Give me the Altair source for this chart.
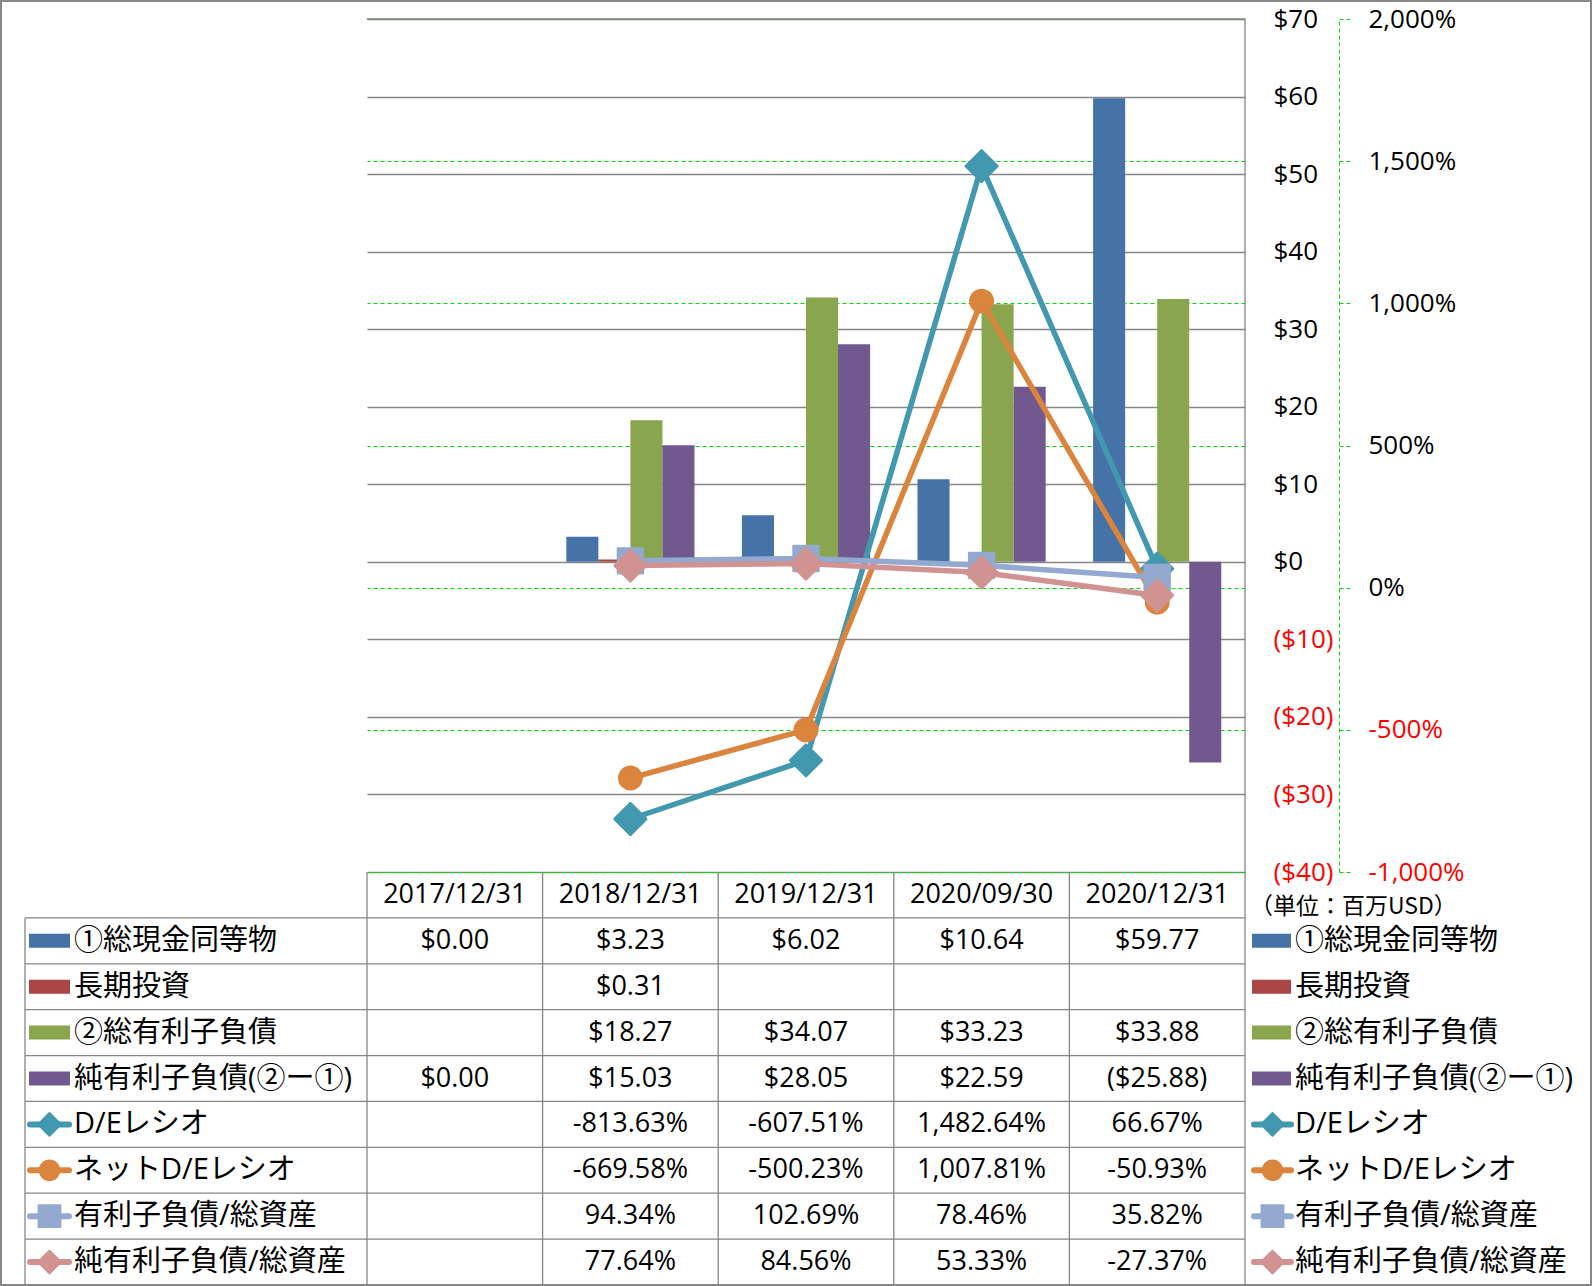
import altair as alt
import pandas as pd

# ---------------- data ----------------
dates = ["2017/12/31", "2018/12/31", "2019/12/31", "2020/09/30", "2020/12/31"]

bar_series = ["①総現金同等物", "長期投資", "②総有利子負債", "純有利子負債(②ー①)"]
line_series = ["D/Eレシオ", "ネットD/Eレシオ", "有利子負債/総資産", "純有利子負債/総資産"]

cash = [0.00, 3.23, 6.02, 10.64, 59.77]
lt_invest = [None, 0.31, None, None, None]
debt = [None, 18.27, 34.07, 33.23, 33.88]
net_debt = [0.00, 15.03, 28.05, 22.59, -25.88]

de_ratio = [None, -813.63, -607.51, 1482.64, 66.67]
net_de_ratio = [None, -669.58, -500.23, 1007.81, -50.93]
debt_to_assets = [None, 94.34, 102.69, 78.46, 35.82]
net_debt_to_assets = [None, 77.64, 84.56, 53.33, -27.37]

money_ticks = [-40, -30, -20, -10, 0, 10, 20, 30, 40, 50, 60, 70]
pct_ticks = [-1000, -500, 0, 500, 1000, 1500, 2000]
unit_label = "（単位：百万USD）"

# ---------------- styles ----------------
bar_colors = ["#4572A7", "#AA4643", "#89A54E", "#71588F"]
line_colors = ["#4198AF", "#DB843D", "#93A9CF", "#D19392"]
line_shapes = ["diamond", "circle", "square", "diamond"]
plot_marker_size = [1000, 500, 620, 1000]
legend_marker_size = [520, 380, 480, 520]

FONT = "Open Sans, Noto Sans CJK JP"
GRID_GRAY = "#868686"
GREEN = "#00DD00"
W, H = 878, 853
ROW_TOP, ROW_BOT = 853, 1266

bar_vals = [cash, lt_invest, debt, net_debt]
line_vals = [de_ratio, net_de_ratio, debt_to_assets, net_debt_to_assets]


def fmt_money(v):
    return f"${v:,.2f}" if v >= 0 else f"(${-v:,.2f})"


def fmt_pct(v):
    return f"{v:,.2f}%"


bar_df = pd.DataFrame(
    [(d, s, v) for s, vals in zip(bar_series, bar_vals) for d, v in zip(dates, vals) if v is not None],
    columns=["date", "series", "value"],
)
line_df = pd.DataFrame(
    [(d, s, v) for s, vals in zip(line_series, line_vals) for d, v in zip(dates, vals) if v is not None],
    columns=["date", "series", "value"],
)

rows_domain = ["hdr"] + bar_series + line_series
table_records = [(d, "hdr", d) for d in dates]
for s, vals in zip(bar_series, bar_vals):
    table_records += [(d, s, fmt_money(v)) for d, v in zip(dates, vals) if v is not None]
for s, vals in zip(line_series, line_vals):
    table_records += [(d, s, fmt_pct(v)) for d, v in zip(dates, vals) if v is not None]
table_df = pd.DataFrame(table_records, columns=["date", "row", "text"])

# ---------------- scales ----------------
x_scale = alt.Scale(domain=dates, paddingInner=0, paddingOuter=0)
xo_scale = alt.Scale(domain=bar_series, paddingInner=0, paddingOuter=0.74)
money_scale = alt.Scale(domain=[-40, 70], nice=False, zero=False)
pct_scale = alt.Scale(domain=[-1000, 2000], nice=False, zero=False)
row_scale = alt.Scale(domain=rows_domain, range=[ROW_TOP, ROW_BOT], paddingInner=0, paddingOuter=0)
color_scale = alt.Scale(domain=bar_series, range=bar_colors)

X = alt.X("date:N", scale=x_scale, axis=None)

money_axis = alt.Axis(
    orient="right", values=money_ticks, title=None,
    labelExpr="datum.value < 0 ? '($' + abs(datum.value) + ')' : '$' + datum.value",
    labelColor={"condition": {"test": "datum.value < 0", "value": "#FF0000"}, "value": "#000000"},
    ticks=False, tickSize=0, domain=False,
    grid=True, gridColor=GRID_GRAY, gridWidth=1.3,
    labelPadding=28, labelFont=FONT, labelFontSize=26, labelAlign="left", labelBaseline="middle",
    labelOverlap=False,
)

pct_axis = alt.Axis(
    orient="right", offset=94, values=pct_ticks, title=None,
    labelExpr="(datum.value < 0 ? '-' : '') + format(abs(datum.value), ',') + '%'",
    labelColor={"condition": {"test": "datum.value < 0", "value": "#FF0000"}, "value": "#000000"},
    domain=True, domainColor=GREEN, domainDash=[4, 3], domainWidth=1,
    ticks=True, tickSize=11, tickColor=GREEN, tickDash=[4, 3], tickWidth=1,
    grid=True, gridColor=GREEN, gridDash=[4, 3], gridWidth=1,
    labelPadding=18, labelFont=FONT, labelFontSize=26, labelAlign="left", labelBaseline="middle",
    labelOverlap=False,
)

# ---------------- bars ----------------
bars = alt.Chart(bar_df).mark_bar().encode(
    x=X,
    xOffset=alt.XOffset("series:N", scale=xo_scale),
    y=alt.Y("value:Q", scale=money_scale, axis=money_axis),
    color=alt.Color("series:N", scale=color_scale, legend=None),
)

# ---------------- lines ----------------
line_layers = []
for i, s in enumerate(line_series):
    base = alt.Chart(line_df).transform_filter(alt.datum.series == s)
    yenc = alt.Y("value:Q", scale=pct_scale, axis=pct_axis)
    line_layers.append(
        base.mark_line(color=line_colors[i], strokeWidth=5.5, strokeCap="round", strokeJoin="round")
        .encode(x=X, y=yenc)
    )
    line_layers.append(
        base.mark_point(
            shape=line_shapes[i], size=plot_marker_size[i], filled=True, opacity=1,
            color=line_colors[i], stroke=line_colors[i], strokeWidth=2.5, strokeJoin="round",
        ).encode(x=X, y=yenc)
    )
lines = alt.layer(*line_layers)

# ---------------- table ----------------
RY = alt.Y("row:N", scale=row_scale, axis=None)
one = pd.DataFrame({"k": [0]})

cells = alt.Chart(table_df).mark_text(font=FONT, fontSize=27, baseline="middle", align="center", color="black").encode(
    x=X, y=RY, text="text:N"
)

hlines = alt.Chart(pd.DataFrame({"row": rows_domain})).mark_rule(color=GRID_GRAY, strokeWidth=1.3).encode(
    y=alt.Y("row:N", scale=row_scale, axis=None, bandPosition=1),
    x=alt.value(-342), x2=alt.value(W),
)
vlines = alt.Chart(pd.DataFrame({"date": dates})).mark_rule(color=GRID_GRAY, strokeWidth=1.3).encode(
    x=alt.X("date:N", scale=x_scale, axis=None, bandPosition=0),
    y=alt.value(ROW_TOP), y2=alt.value(ROW_BOT),
)
top_line = alt.Chart(one).mark_rule(color=GRID_GRAY, strokeWidth=1.3).encode(
    x=alt.value(0), x2=alt.value(W), y=alt.value(0)
)
right_border = alt.Chart(one).mark_rule(color=GRID_GRAY, strokeWidth=1.3).encode(
    x=alt.value(W), y=alt.value(0), y2=alt.value(ROW_BOT)
)
left_border = alt.Chart(one).mark_rule(color=GRID_GRAY, strokeWidth=1.3).encode(
    x=alt.value(-342), y=alt.value(ROW_TOP + (ROW_BOT - ROW_TOP) / 9), y2=alt.value(ROW_BOT)
)
frame = alt.Chart(one).mark_rect(filled=False, stroke=GRID_GRAY, strokeWidth=2).encode(
    x=alt.value(-366), x2=alt.value(1224), y=alt.value(-18), y2=alt.value(1266)
)

label_df = pd.DataFrame({"row": bar_series + line_series})
left_labels = alt.Chart(label_df).mark_text(font=FONT, fontSize=29, align="left", baseline="middle", color="black").encode(
    x=alt.value(-293), y=RY, text="row:N"
)
right_labels = alt.Chart(label_df).mark_text(font=FONT, fontSize=29, align="left", baseline="middle", color="black").encode(
    x=alt.value(928), y=RY, text="row:N"
)

bar_sw_df = pd.DataFrame({"row": bar_series, "series": bar_series})
left_bar_sw = alt.Chart(bar_sw_df).mark_rule(strokeWidth=14, strokeCap="butt").encode(
    x=alt.value(-338), x2=alt.value(-297), y=RY,
    color=alt.Color("series:N", scale=color_scale, legend=None),
)
right_bar_sw = alt.Chart(bar_sw_df).mark_rule(strokeWidth=14, strokeCap="butt").encode(
    x=alt.value(885), x2=alt.value(924), y=RY,
    color=alt.Color("series:N", scale=color_scale, legend=None),
)

sw_layers = []
for i, s in enumerate(line_series):
    df = pd.DataFrame({"row": [s]})
    for x0, x1 in [(-337, -298), (887, 924)]:
        sw_layers.append(
            alt.Chart(df).mark_rule(color=line_colors[i], strokeWidth=6, strokeCap="round").encode(
                x=alt.value(x0), x2=alt.value(x1), y=RY
            )
        )
        sw_layers.append(
            alt.Chart(df).mark_point(
                shape=line_shapes[i], size=legend_marker_size[i], filled=True, opacity=1,
                color=line_colors[i], stroke=line_colors[i], strokeWidth=2, strokeJoin="round",
            ).encode(x=alt.value((x0 + x1) / 2), y=RY)
        )

unit = alt.Chart(one).mark_text(
    font="Noto Sans CJK JP", fontSize=23, align="left", baseline="middle", color="black", text=unit_label
).encode(x=alt.value(883), y=alt.value(888))

table = alt.layer(
    top_line, hlines, vlines, right_border, left_border, frame, cells, left_labels, right_labels,
    left_bar_sw, right_bar_sw, *sw_layers, unit,
)

chart = (
    alt.layer(bars, lines, table)
    .resolve_scale(y="independent")
    .properties(
        width=W, height=H,
        padding={"left": 367, "top": 19, "right": 347, "bottom": 414},
        autosize=alt.AutoSizeParams(type="none"),
        background="white",
    )
    .configure_view(stroke=None)
)

chart.save("out.html", embed_options={"renderer": "svg", "actions": False})
